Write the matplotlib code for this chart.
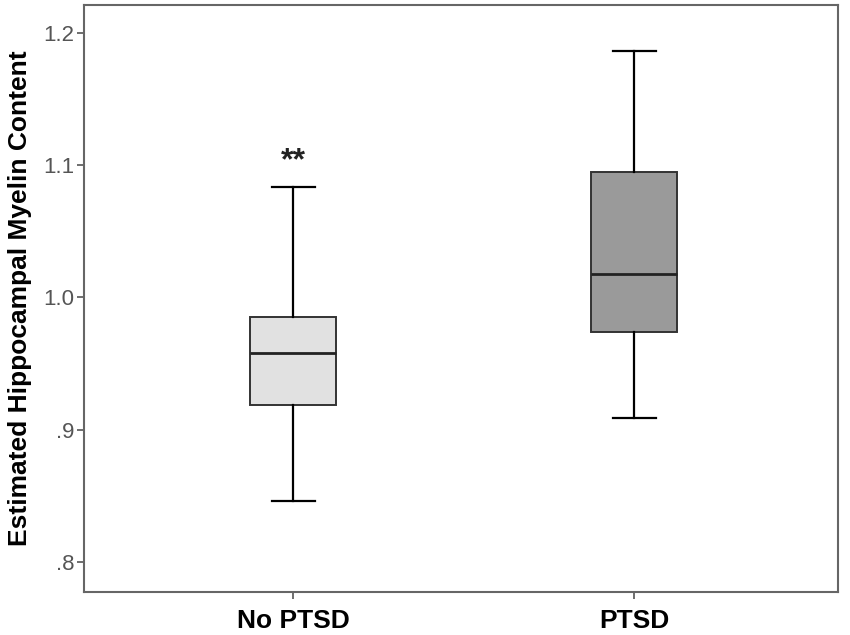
import matplotlib.pyplot as plt

groups = ["No PTSD", "PTSD"]
whislo = [0.846, 0.9085]
q1 = [0.9186, 0.9738]
med = [0.9577, 1.0174]
q3 = [0.9849, 1.0945]
whishi = [1.0836, 1.186]
fills = ["#e1e1e1", "#9a9a9a"]

yticks = [0.8, 0.9, 1.0, 1.1, 1.2]
ytick_labels = [".8", ".9", "1.0", "1.1", "1.2"]

plt.rcParams["font.family"] = ["Liberation Sans", "DejaVu Sans"]

fig = plt.figure(figsize=(8.5, 6.35), dpi=100)
ax = fig.add_axes([84 / 850, 1 - 592 / 635, (838 - 84) / 850, (592 - 5) / 635])

stats = []
for i, g in enumerate(groups):
    stats.append({"label": g, "whislo": whislo[i], "q1": q1[i], "med": med[i],
                  "q3": q3[i], "whishi": whishi[i], "fliers": []})

line = dict(color="black", linewidth=1.6)
bp = ax.bxp(stats, positions=[1, 2], widths=0.252, capwidths=0.126,
            patch_artist=True, showfliers=False,
            boxprops=dict(edgecolor="#333333", linewidth=1.4),
            medianprops=dict(color="#222222", linewidth=2.0),
            whiskerprops=line, capprops=line)
for patch, c in zip(bp["boxes"], fills):
    patch.set_facecolor(c)

# significance mark above the No PTSD whisker
ax.text(1, 1.103, "**", ha="center", va="center", fontsize=23, fontweight="bold", color="#222222")

ax.set_xlim(0.387, 2.598)
ax.set_ylim(0.7772, 1.2209)
ax.set_yticks(yticks)
ax.set_yticklabels(ytick_labels)
ax.set_xticks([1, 2])
ax.set_xticklabels(groups, fontsize=19, fontweight="bold")
ax.tick_params(axis="y", colors="#555555", labelsize=16, length=5, width=1.2, pad=2)
ax.tick_params(axis="x", length=5, width=1.2, color="#555555", labelcolor="black", pad=7)
for s in ax.spines.values():
    s.set_color("#666666")
    s.set_linewidth(1.5)

ax.set_ylabel("Estimated Hippocampal Myelin Content", fontsize=19, fontweight="bold", labelpad=8)

plt.savefig("out.png")
